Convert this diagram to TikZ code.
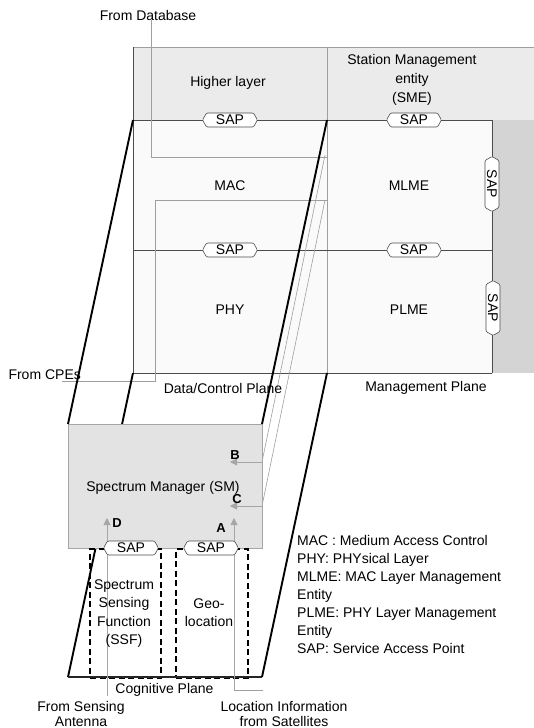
\documentclass[tikz,border=0pt]{standalone}
\usepackage{fontspec}
\setmainfont{Liberation Sans}
\usetikzlibrary{shapes.symbols,arrows.meta}
\begin{document}
\begin{tikzpicture}[x=1pt,y=-1pt,
  every node/.style={font=\fontsize{14}{17}\selectfont, inner sep=0pt},
  sap/.style={shape=signal, signal to=east and west, signal pointer angle=120,
    draw=black!70, fill=white, rounded corners=1.2pt, minimum width=55pt,
    minimum height=14pt, inner xsep=2pt, inner ysep=1pt, line width=0.6pt},
  vsap/.style={sap, rotate=-90},
  thinline/.style={draw=black!70, line width=0.6pt},
  grayline/.style={draw=gray!75, line width=0.6pt},
  thickthreed/.style={draw=black, line width=1.9pt},
  dashbox/.style={draw=black, line width=2.2pt, dash pattern=on 6pt off 3.5pt},
  garrow/.style={draw=gray!70, line width=0.8pt, -{Triangle[length=7pt,width=7pt]}},
  letter/.style={font=\fontsize{13}{13}\selectfont\bfseries},
]
\useasboundingbox (0,0) rectangle (534,728);

% ---- coordinates of the planes
\coordinate (dcTL) at (133,120);
\coordinate (dcTR) at (327,120);
\coordinate (dcBL) at (133,373);
\coordinate (dcBR) at (327,373);
\coordinate (cgTL) at (68,424);
\coordinate (cgTR) at (262,424);
\coordinate (cgBL) at (68,677);
\coordinate (cgBR) at (262,677);

% ---- shading of the upper block
\fill[gray!16] (133,47) rectangle (534,120);
\fill[gray!34] (492,120) rectangle (534,373);
\fill[gray!4] (133,120) rectangle (492,373);

% ---- upper block lines
\draw[grayline] (133,47) -- (534,47);
\draw[thinline] (133,47) -- (133,373) -- (492,373);
\draw[grayline] (327,47) -- (327,373);
\draw[thinline] (133,120) -- (492,120) -- (492,373);
\draw[thinline] (133,250) -- (492,250);

% ---- from database / from CPEs
\node (db) at (148,15) {From Database};
\coordinate (dbEnd) at (327,157);
\draw[grayline] ([xshift=3pt]db.south) |- (dbEnd);
\node (cpe) at (44.7,374.5) {From CPEs};
\coordinate (cpeStart) at (62,381);
\coordinate (cpeEnd) at (327,200);
\draw[grayline] (cpeStart) -| (155,200) -- (cpeEnd);

% ---- hidden back edge and B / C lines
\draw[thickthreed] (dcBL) -- (cgBL);
\coordinate (bTop) at (325,155);
\coordinate (bEdge) at (262,462);
\coordinate (bTip) at (230,462);
\coordinate (cTop) at (325,200);
\coordinate (cEdge) at (262,506);
\coordinate (cTip) at (230,506);
\draw[grayline] (bTop) -- (bEdge);
\draw[grayline] (cTop) -- (cEdge);

% ---- spectrum manager box
\node[draw=gray!70, fill=gray!22, line width=0.6pt, minimum width=194pt,
  minimum height=124pt, anchor=north west] (sm) at (cgTL) {};
\node (smtext) at (163,488) {Spectrum Manager (SM)};

% ---- dashed boxes
\node[dashbox, minimum width=71pt, minimum height=129pt, anchor=north west] (ssfbox) at (89,548) {};
\node[dashbox, minimum width=72pt, minimum height=129pt, anchor=north west] (geobox) at (175,548) {};
\draw[draw=black!85, line width=1.2pt] (cgBL) -- (cgBR);

% ---- thick perspective edges
\draw[thickthreed] (dcTL) -- (cgTL);
\draw[thickthreed] (dcTR) -- (cgTR);
\draw[thickthreed] (dcBR) -- (cgBR);

% ---- arrows A, D
\coordinate (aTip) at (234,518);
\coordinate (aBot) at (234,690);
\coordinate (aEnd) at (263,690);
\coordinate (dTip) at (107,518);
\coordinate (dBot) at (107,696);
\draw[grayline] (aEnd) -- (aBot);
\draw[garrow] (aBot) -- (aTip);
\draw[garrow] (dBot) -- (dTip);
\draw[garrow] (bEdge) -- (bTip);
\draw[garrow] (cEdge) -- (cTip);

% ---- SAPs
\node[sap] (sap1) at (230,120) {SAP};
\node[sap] (sap2) at (414,120) {SAP};
\node[sap] (sap3) at (230,250) {SAP};
\node[sap] (sap4) at (414,250) {SAP};
\node[vsap] (sap5) at (492,184) {SAP};
\node[vsap] (sap6) at (493,308) {SAP};
\node[sap] (sap7) at (131,548) {SAP};
\node[sap] (sap8) at (211,548) {SAP};

% ---- texts
\node (hl) at (228,83) {Higher layer};
\node[align=center, font=\fontsize{14}{19}\selectfont] (sme) at (412,80) {Station Management\\entity\\(SME)};
\node (mac) at (230,186) {MAC};
\node (mlme) at (409,186) {MLME};
\node (phy) at (230,310) {PHY};
\node (plme) at (409,310) {PLME};
\node (dcp) at (223,388) {Data/Control Plane};
\node (mp) at (426,388) {Management Plane};
\node[letter] (lb) at (235,455) {B};
\node[letter] (lc) at (237,499) {C};
\node[letter] (ld) at (117,523) {D};
\node[letter] (la) at (221,528) {A};
\node[align=center, font=\fontsize{14}{18.3}\selectfont] (ssf) at (124,613.5) {Spectrum\\Sensing\\Function\\(SSF)};
\node[align=center, font=\fontsize{14}{18.3}\selectfont] (geo) at (209,613) {Geo-\\location};
\node (cog) at (164.5,690) {Cognitive Plane};
\node[align=center, font=\fontsize{14}{15}\selectfont] (ant) at (81,714) {From Sensing\\Antenna};
\node[align=center, font=\fontsize{14}{15}\selectfont] (loc) at (284,714) {Location Information\\from Satellites};

% ---- legend
\node[anchor=base west] (lg1) at (297,545) {MAC : Medium Access Control};
\node[anchor=base west] (lg2) at (297,563) {PHY: PHYsical Layer};
\node[anchor=base west] (lg3) at (297,581) {MLME: MAC Layer Management};
\node[anchor=base west] (lg4) at (297,599) {Entity};
\node[anchor=base west] (lg5) at (297,617) {PLME: PHY Layer Management};
\node[anchor=base west] (lg6) at (297,635) {Entity};
\node[anchor=base west] (lg7) at (297,653) {SAP: Service Access Point};
\end{tikzpicture}
\end{document}
